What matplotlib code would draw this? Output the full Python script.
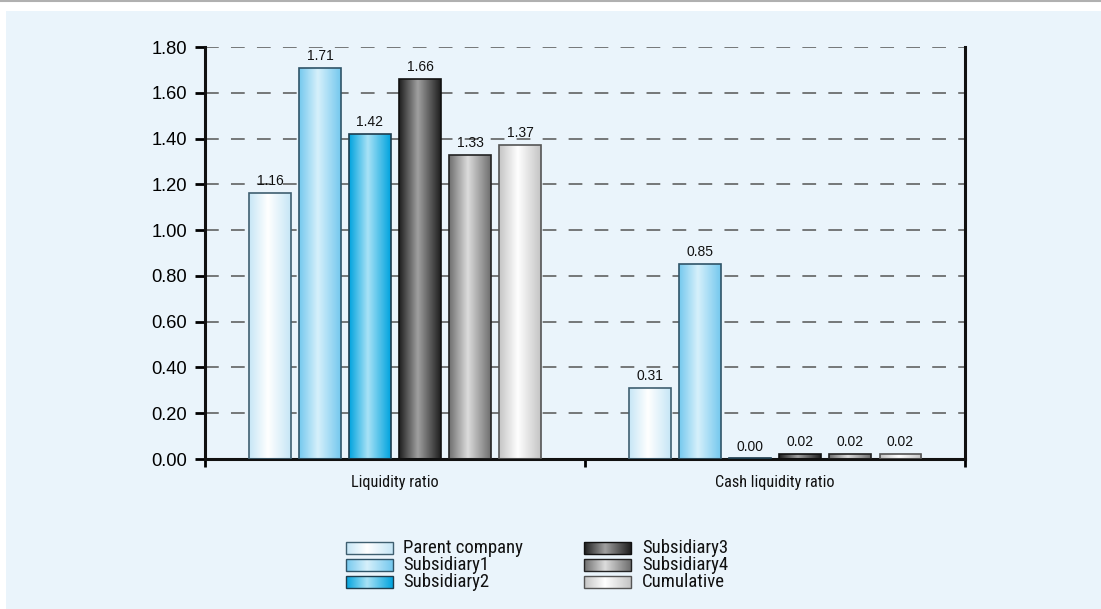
import matplotlib
matplotlib.use("Agg")
import matplotlib.pyplot as plt
from matplotlib.colors import LinearSegmentedColormap
from matplotlib.patches import Rectangle
import numpy as np

categories = ["Liquidity ratio", "Cash liquidity ratio"]
series = ["Parent company", "Subsidiary1", "Subsidiary2",
          "Subsidiary3", "Subsidiary4", "Cumulative"]
values = [
    [1.16, 0.31],
    [1.71, 0.85],
    [1.42, 0.00],
    [1.66, 0.02],
    [1.33, 0.02],
    [1.37, 0.02],
]
y_ticks = [0.0, 0.2, 0.4, 0.6, 0.8, 1.0, 1.2, 1.4, 1.6, 1.8]

# edge colour / highlight colour / outline for each series gradient
shades = [
    ("#c6e6f6", "#ffffff", "#3f5f70"),
    ("#74c8ee", "#d6f0fb", "#2f5468"),
    ("#00a3de", "#a8e2f6", "#1d3c4d"),
    ("#1e1e1e", "#a0a0a0", "#111111"),
    ("#6e6e6e", "#dcdcdc", "#222222"),
    ("#c4c4c4", "#ffffff", "#555555"),
]

BG = "#eaf4fb"
W, H = 1101, 609

fig = plt.figure(figsize=(W / 100, H / 100), dpi=100)
fig.patch.set_facecolor("white")

font = ["Liberation Sans", "DejaVu Sans"]
narrow = ["Liberation Sans Narrow", "Roboto Condensed", "Liberation Sans", "DejaVu Sans"]

# background panel + legend live in a full-figure pixel axes
lg = fig.add_axes([0, 0, 1, 1])
lg.set_zorder(0)
lg.axis("off")
lg.add_patch(Rectangle((6, 11), W - 6, H - 11, facecolor=BG, edgecolor="none", zorder=0))
lg.plot([0, W], [0.8, 0.8], color="#b0b0b0", lw=1.5)

ax = fig.add_axes([205 / W, 150 / H, 760 / W, 412 / H])
ax.set_zorder(1)
ax.set_facecolor("none")


def make_cmap(edge, mid):
    return LinearSegmentedColormap.from_list("g", [(0, edge), (0.45, mid), (1, edge)])


grad = np.linspace(0, 1, 256).reshape(1, -1)
bar_w = 0.108
step = 0.1316

for i, name in enumerate(series):
    edge, mid, line = shades[i]
    cmap = make_cmap(edge, mid)
    for j, v in enumerate(values[i]):
        x0 = j + 0.5 + (i - 2.5) * step - bar_w / 2
        h = max(v, 0.004)
        rect = Rectangle((x0, 0), bar_w, h, facecolor="none",
                         edgecolor=line, lw=1.2, zorder=3)
        ax.add_patch(rect)
        img = ax.imshow(grad, cmap=cmap, aspect="auto",
                        extent=(x0, x0 + bar_w, 0, h), zorder=2)
        img.set_clip_path(rect)
        ax.text(x0 + bar_w / 2, v + 0.022, f"{v:.2f}", ha="center",
                va="bottom", fontsize=10, family=font, color="#111111", zorder=4)

ax.set_xlim(0, 2)
ax.set_ylim(0, 1.8)
ax.set_yticks(y_ticks)
ax.set_yticklabels([f"{t:.2f}" for t in y_ticks], family=font, fontsize=13.2)
ax.set_xticks([0, 1, 2])
ax.set_xticklabels([])
for j, c in enumerate(categories):
    ax.text(j + 0.5, -0.068, c, ha="center", va="top", fontsize=11.7,
            family=narrow, color="#111111")

for t in y_ticks[1:]:
    ax.axhline(t, color="#555555", lw=1.1, dashes=(9, 8), zorder=1)

ax.tick_params(axis="y", direction="out", length=7, width=2, pad=6)
ax.tick_params(axis="x", direction="out", length=6, width=2)
for s in ["left", "bottom", "right"]:
    ax.spines[s].set_linewidth(2.2)
    ax.spines[s].set_color("#111111")
ax.spines["top"].set_visible(False)

cols = [(346, 403), (584, 642)]
rows = [548, 565, 582]
for i, name in enumerate(series):
    hx, tx = cols[i // 3]
    cy = rows[i % 3]
    edge, mid, line = shades[i]
    r = Rectangle((hx, cy - 6), 47, 12, facecolor="none", edgecolor=line, lw=1.0, zorder=3)
    lg.add_patch(r)
    im = lg.imshow(grad, cmap=make_cmap(edge, mid), aspect="auto",
                   extent=(hx, hx + 47, cy + 6, cy - 6), zorder=2)
    im.set_clip_path(r)
    lg.text(tx, cy, name, ha="left", va="center", fontsize=13.5,
            family=narrow, color="#111111")
lg.set_xlim(0, W)
lg.set_ylim(H, 0)

fig.savefig("out.png", dpi=100, facecolor=fig.get_facecolor())
